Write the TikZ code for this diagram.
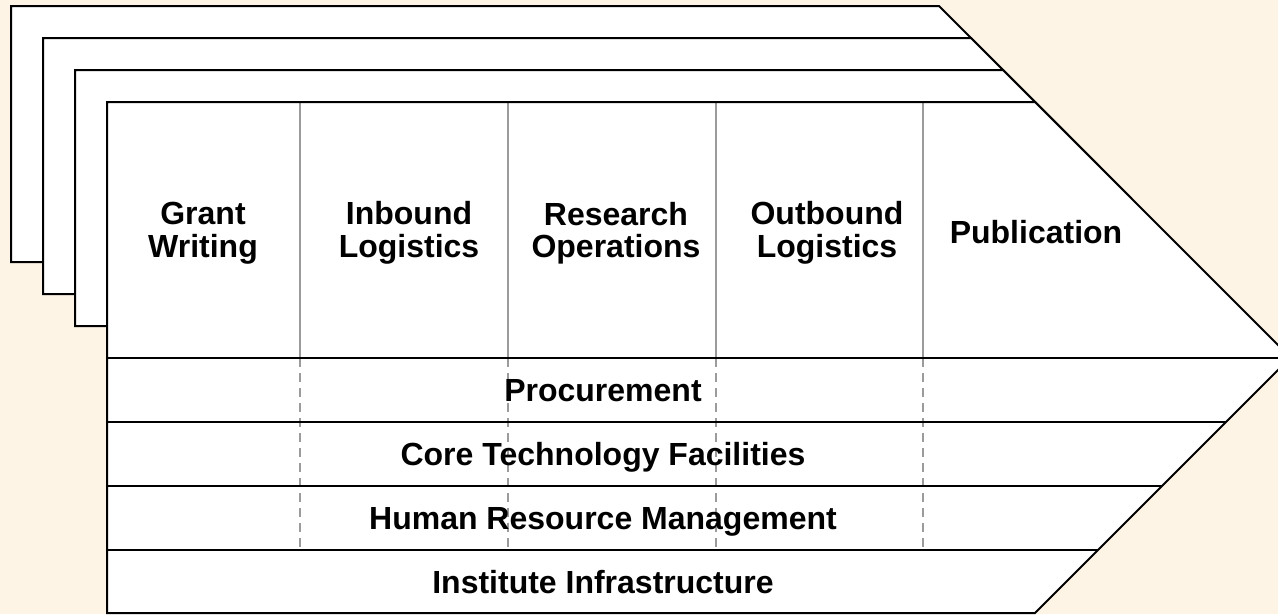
\documentclass[tikz,border=0pt]{standalone}
\usepackage{fontspec}
\setmainfont{Liberation Sans}
\definecolor{bgcream}{RGB}{253,244,229}
\definecolor{divgray}{RGB}{155,155,155}
\begin{document}
\begin{tikzpicture}[x=1pt,y=-1pt,
  layerbox/.style={draw=black,fill=white,line width=2pt,line join=miter},
  rowline/.style={draw=black,line width=2pt},
  divline/.style={draw=divgray,line width=2pt},
  divdash/.style={divline,dash pattern=on 9pt off 6pt},
  lbl/.style={font=\fontsize{32}{32.5}\selectfont\bfseries,align=center,inner sep=0pt}]
\useasboundingbox (0,0) rectangle (1278,614);
\fill[bgcream] (0,0) rectangle (1278,614);
\clip (0,0) rectangle (1278,614);
% back layers
\foreach \xo/\yo in {11/6,43/38,75/70}{
  \draw[layerbox] (\xo,\yo) -- ++(928,0) -- ++(128,128) -- ++(-128,128) -- ++(-928,0) -- cycle;
}
% front chevron
\fill[white] (107,102) -- (1035,102) -- (1290.5,357.5) -- (1035,613) -- (107,613) -- cycle;
% column dividers
\foreach \x in {300,508,716,923}{
  \draw[divline] (\x,102) -- (\x,358);
  \draw[divdash] (\x,358) -- (\x,550);
}
% row lines
\draw[rowline] (107,358) -- (1290.5,358);
\draw[rowline] (107,422) -- (1226,422);
\draw[rowline] (107,486) -- (1162,486);
\draw[rowline] (107,550) -- (1098,550);
\draw[layerbox,fill=none] (107,102) -- (1035,102) -- (1290.5,357.5) -- (1035,613) -- (107,613) -- cycle;
% labels
\node[lbl] (gw) at (203,233) {Grant\\Writing};
\node[lbl] (il) at (409,233) {Inbound\\Logistics};
\node[lbl] (ro) at (616,233) {Research\\Operations};
\node[lbl] (ol) at (827,233) {Outbound\\Logistics};
\node[lbl,anchor=base] (pub) at (1036,243) {Publication};
\node[lbl,anchor=base] (proc) at (603,401) {Procurement};
\node[lbl,anchor=base] (ctf) at (603,465) {Core Technology Facilities};
\node[lbl,anchor=base] (hrm) at (603,529) {Human Resource Management};
\node[lbl,anchor=base] (inf) at (603,593) {Institute Infrastructure};
\end{tikzpicture}
\end{document}
